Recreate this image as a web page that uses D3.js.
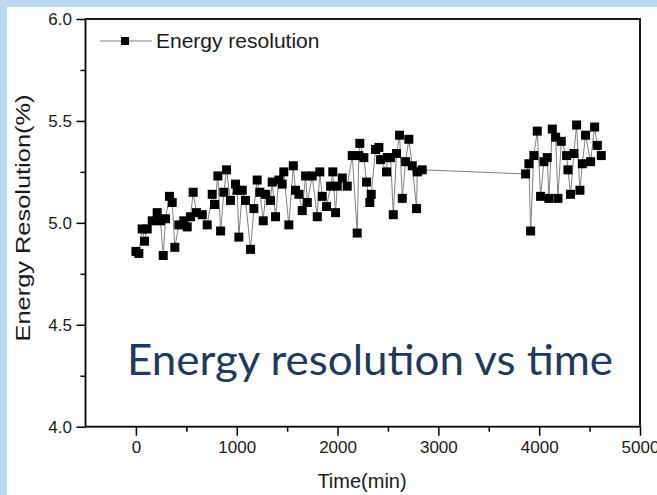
<!DOCTYPE html>
<html><head><meta charset="utf-8">
<script src="https://cdn.jsdelivr.net/npm/d3@7"></script>
<style>html,body{margin:0;padding:0;background:#fff}svg{display:block}</style>
</head><body>
<svg id="c" width="657" height="495"></svg>
<script>
const timeMin = [0,29,62,85,112,162,211,244,271,294,333,360,386,426,475,509,542,568,601,658,
  707,757,780,813,840,872,899,938,988,1005,1021,1055,1087,1137,1170,1203,1229,1263,1286,1335,
  1352,1385,1418,1451,1467,1517,1561,1583,1617,1650,1683,1700,1749,1799,1824,1848,1891,1931,1953,1980,
  1997,2047,2096,2146,2195,2211,2221,2261,2288,2320,2334,2377,2410,2427,2486,2493,2526,2553,2585,2615,
  2642,2675,2707,2741,2784,2791,2840,
  3865,3898,3915,3947,3981,4014,4047,4080,4096,4130,4163,4186,4219,4272,4285,4311,4344,4371,4404,4428,
  4460,4510,4550,4577,4616];
const energyRes = [4.86,4.85,4.97,4.91,4.97,5.01,5.05,5.01,4.84,5.02,5.13,5.10,4.88,4.99,5.01,4.98,5.03,5.15,5.05,5.04,
  4.99,5.14,5.09,5.23,4.96,5.15,5.26,5.11,5.19,5.16,4.93,5.16,5.11,4.87,5.07,5.21,5.15,5.01,5.14,5.11,
  5.20,5.03,5.21,5.19,5.25,4.99,5.28,5.16,5.14,5.06,5.23,5.10,5.23,5.03,5.25,5.13,5.08,5.18,5.25,5.05,
  5.18,5.22,5.18,5.33,4.95,5.33,5.39,5.32,5.20,5.10,5.14,5.36,5.37,5.31,5.25,5.32,5.32,5.04,5.34,5.43,
  5.12,5.30,5.41,5.28,5.07,5.25,5.26,
  5.24,5.29,4.96,5.33,5.45,5.13,5.30,5.32,5.12,5.46,5.42,5.12,5.40,5.33,5.26,5.14,5.34,5.48,5.16,5.29,
  5.43,5.30,5.47,5.38,5.33];
const xTickValues = [0,1000,2000,3000,4000,5000];
const xMinorTicks = [500,1500,2500,3500,4500];
const yTickValues = [4.0,4.5,5.0,5.5,6.0];
const yMinorTicks = [4.25,4.75,5.25,5.75];
const legendLabel = "Energy resolution";
const xTitle = "Time(min)";
const yTitle = "Energy Resolution(%)";
const overlayText = "Energy resolution vs time";

const svg = d3.select("#c");
svg.append("rect").attr("width",657).attr("height",495).attr("fill","#bdd7ee");
svg.append("rect").attr("x",7).attr("y",7).attr("width",650).attr("height",488).attr("fill","#fff");

const L=85.5, R=640, T=19, B=426.7;
const x = d3.scaleLinear().domain([-500,5000]).range([L,R]);
const y = d3.scaleLinear().domain([4,6]).range([B,T]);
const font = "'Liberation Sans', Arial, sans-serif";

// minor ticks
const gxm = svg.append("g").attr("transform",`translate(0,${B})`)
  .call(d3.axisBottom(x).tickValues(xMinorTicks).tickSize(5).tickSizeOuter(0).tickFormat(""));
gxm.select(".domain").remove();
const gym = svg.append("g").attr("transform",`translate(${L},0)`)
  .call(d3.axisLeft(y).tickValues(yMinorTicks).tickSize(5).tickSizeOuter(0).tickFormat(""));
gym.select(".domain").remove();

const gx = svg.append("g").attr("transform",`translate(0,${B})`)
  .call(d3.axisBottom(x).tickValues(xTickValues).tickSize(9).tickSizeOuter(0).tickPadding(5).tickFormat(d3.format("d")));
gx.select(".domain").remove();
const gy = svg.append("g").attr("transform",`translate(${L},0)`)
  .call(d3.axisLeft(y).tickValues(yTickValues).tickSize(9).tickSizeOuter(0).tickPadding(4.5).tickFormat(d3.format(".1f")));
gy.select(".domain").remove();
[gx,gy,gxm,gym].forEach(g=>{
  g.selectAll("line").attr("stroke","#000").attr("stroke-width",1.5);
  g.selectAll("text").attr("font-family",font).attr("font-size",17).attr("fill","#1a1a1a");
});

// frame
svg.append("rect").attr("x",L).attr("y",T).attr("width",R-L).attr("height",B-T)
  .attr("fill","none").attr("stroke","#000").attr("stroke-width",1.8);

// data
const idx = d3.range(timeMin.length);
const line = d3.line().x(i=>x(timeMin[i])).y(i=>y(energyRes[i]));
svg.append("path").attr("d",line(idx)).attr("fill","none").attr("stroke","#808080").attr("stroke-width",1);
const ms = 9;
svg.append("g").selectAll("rect").data(idx).join("rect")
  .attr("x",i=>x(timeMin[i])-ms/2).attr("y",i=>y(energyRes[i])-ms/2)
  .attr("width",ms).attr("height",ms).attr("fill","#000");

// legend
svg.append("line").attr("x1",100).attr("x2",152).attr("y1",41).attr("y2",41).attr("stroke","#808080").attr("stroke-width",1);
svg.append("rect").attr("x",121).attr("y",37).attr("width",8).attr("height",8).attr("fill","#000");
svg.append("text").attr("x",156).attr("y",48).attr("font-family",font).attr("font-size",21).attr("fill","#1a1a1a").text(legendLabel);

// axis titles
svg.append("text").attr("x",362).attr("y",488).attr("text-anchor","middle")
  .attr("font-family",font).attr("font-size",20).attr("fill","#1a1a1a").text(xTitle);
svg.append("text").attr("transform","translate(30,218) rotate(-90)").attr("text-anchor","middle")
  .attr("font-family",font).attr("font-size",21).attr("fill","#1a1a1a")
  .attr("textLength",247).attr("lengthAdjust","spacingAndGlyphs").text(yTitle);

// overlay title
svg.append("text").attr("x",127).attr("y",375)
  .attr("font-family","Lato, 'Open Sans', sans-serif").attr("font-size",42).attr("fill","#1f3a5c")
  .attr("textLength",486).attr("lengthAdjust","spacingAndGlyphs").text(overlayText);
</script>
</body></html>
